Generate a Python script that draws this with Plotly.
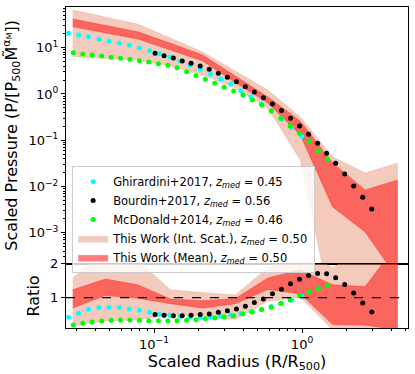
import plotly.graph_objects as go
from plotly.subplots import make_subplots

# radii of the "This Work" bins (R/R500)
band_r = [0.0282, 0.0469, 0.0776, 0.129, 0.213, 0.354, 0.587, 0.973, 1.61, 2.67, 4.44]
# scaled pressure bands
scat_hi = [65.2, 46.0, 32.5, 16.2, 8.07, 3.14, 1.22, 0.318, 0.0436, 0.0197, 0.0324]
mean_hi = [41.7, 30.5, 22.2, 12.5, 6.95, 2.45, 0.861, 0.261, 0.0324, 0.00845, 0.0139]
mean_lo = [28.4, 21.0, 15.4, 8.91, 5.16, 1.77, 0.640, 0.130, 0.00362, 0.00104, 0.000101]
scat_lo = [6.40, 5.90, 5.42, 4.03, 2.57, 1.35, 0.499, 0.0375, 1.7e-5, 1e-7, 1e-7]
# ratio bands
ratio_scat_hi = [1.58, 2.35, 2.10, 1.23, 1.15, 1.08, 1.88, 2.4, 1.88, 2.5, 2.8]
ratio_mean_hi = [1.23, 1.55, 1.38, 0.96, 0.91, 0.97, 1.58, 1.82, 1.38, 1.33, 2.6]
ratio_mean_lo = [0.69, 1.06, 0.98, 0.82, 0.69, 0.82, 1.24, 1.11, 0.2, 0.18, 0.05]
ratio_scat_lo = [0.16, 0.31, 0.34, 0.5, 0.45, 0.35, 0.89, 1.0, 0.05, 0.05, 0.05]

# Ghirardini+2017
ghir_r = [0.0264, 0.0309, 0.0361, 0.0424, 0.0496, 0.0581, 0.0680, 0.0796, 0.0933, 0.109,
          0.128, 0.150, 0.175, 0.206, 0.241, 0.282, 0.330, 0.386, 0.452, 0.530,
          0.620, 0.726, 0.851, 0.996]
ghir_p = [20.5, 18.8, 17.3, 15.4, 14.0, 12.6, 11.3, 9.86, 8.61, 7.42,
          6.29, 5.16, 4.23, 3.41, 2.66, 2.11, 1.64, 1.18, 0.875, 0.608,
          0.430, 0.288, 0.187, 0.120]
ghir_ratio = [0.418, 0.537, 0.656, 0.703, 0.715, 0.703, 0.665, 0.626, 0.567, 0.516,
              0.478, 0.448, 0.427, 0.418, 0.427, 0.448, 0.487, 0.531, 0.585, 0.650,
              0.739, 0.834, 0.932, 1.042]

# Bourdin+2017
bour_r = [0.1016, 0.117, 0.135, 0.155, 0.178, 0.205, 0.236, 0.272, 0.313, 0.360,
          0.414, 0.476, 0.548, 0.631, 0.726, 0.836, 0.962, 1.107, 1.274, 1.466,
          1.687, 1.941, 2.234, 2.570, 2.958]
bour_p = [7.57, 6.71, 5.99, 5.16, 4.60, 4.03, 3.41, 2.80, 2.30, 1.85,
          1.44, 1.10, 0.832, 0.608, 0.440, 0.299, 0.204, 0.135, 0.0861, 0.0524,
          0.0318, 0.0187, 0.0103, 0.00587, 0.00328]
bour_ratio = [0.496, 0.478, 0.466, 0.466, 0.478, 0.496, 0.516, 0.567, 0.614, 0.665,
              0.745, 0.852, 0.961, 1.110, 1.249, 1.407, 1.546, 1.653, 1.712, 1.703,
              1.585, 1.386, 1.139, 0.843, 0.576]

# McDonald+2014
mcd_r = [0.0285, 0.0330, 0.0382, 0.0443, 0.0513, 0.0593, 0.0687, 0.0796, 0.0921, 0.107,
         0.124, 0.143, 0.166, 0.192, 0.222, 0.257, 0.298, 0.345, 0.399, 0.462,
         0.535, 0.619, 0.717, 0.830, 0.961, 1.113, 1.289, 1.492]
mcd_p = [7.80, 7.31, 6.95, 6.62, 6.21, 5.90, 5.61, 5.24, 4.91, 4.51,
         4.17, 3.70, 3.03, 2.48, 2.08, 1.70, 1.40, 1.16, 0.951, 0.741,
         0.578, 0.430, 0.299, 0.204, 0.142, 0.0919, 0.0596, 0.0394]
mcd_ratio = [0.190, 0.240, 0.279, 0.309, 0.329, 0.338, 0.338, 0.329, 0.318, 0.318,
             0.318, 0.318, 0.329, 0.347, 0.377, 0.398, 0.427, 0.466, 0.516, 0.576,
             0.644, 0.715, 0.822, 0.932, 1.059, 1.169, 1.267, 1.347]

PINK = 'rgba(233,150,122,0.5)'
RED = 'rgba(255,0,0,0.5)'
FONT = 'DejaVu Sans'

fig = make_subplots(rows=2, cols=1, shared_xaxes=True, vertical_spacing=0,
                    row_heights=[0.8, 0.2])


def add_band(lo, hi, color, name, row, legend, rank):
    fig.add_trace(go.Scatter(x=band_r, y=lo, mode='lines', line=dict(width=0.6, color=color),
                             showlegend=False, hoverinfo='skip'), row=row, col=1)
    fig.add_trace(go.Scatter(x=band_r, y=hi, mode='lines', line=dict(width=0.6, color=color),
                             fill='tonexty', fillcolor=color, name=name,
                             showlegend=legend, legendrank=rank), row=row, col=1)


zmed = '<i>z<sub>med</sub></i> = '
add_band(scat_lo, scat_hi, PINK, 'This Work (Int. Scat.), ' + zmed + '0.50', 1, True, 4)
add_band(mean_lo, mean_hi, RED, 'This Work (Mean), ' + zmed + '0.50', 1, True, 5)
add_band(ratio_scat_lo, ratio_scat_hi, PINK, '', 2, False, 10)
add_band(ratio_mean_lo, ratio_mean_hi, RED, '', 2, False, 10)

series = [
    (ghir_r, ghir_p, ghir_ratio, 'cyan', 'Ghirardini+2017, ' + zmed + '0.45', 1),
    (bour_r, bour_p, bour_ratio, 'black', 'Bourdin+2017, ' + zmed + '0.56', 2),
    (mcd_r, mcd_p, mcd_ratio, 'lime', 'McDonald+2014, ' + zmed + '0.46', 3),
]
for r, p, rat, c, name, rank in series:
    fig.add_trace(go.Scatter(x=r, y=p, mode='markers', marker=dict(size=5, color=c),
                             name=name, legendrank=rank), row=1, col=1)
    fig.add_trace(go.Scatter(x=r, y=rat, mode='markers', marker=dict(size=5, color=c),
                             showlegend=False), row=2, col=1)

fig.add_hline(y=1, line=dict(color='black', width=1.3, dash='dash'), row=2, col=1)

minor_x = [k * 10 ** e for e in (-2, -1, 0) for k in range(2, 10)]
minor_y = [k * 10 ** e for e in (-4, -3, -2, -1, 0, 1) for k in range(2, 10)]

axis_common = dict(showline=True, mirror=True, linecolor='black', linewidth=1, automargin=False,
                   showgrid=False, zeroline=False, tickfont=dict(family=FONT, size=13, color='black'))

fig.update_xaxes(type='log', range=[-1.595, 0.716], **axis_common)
fig.update_xaxes(ticks='', showticklabels=False, row=1, col=1)
fig.update_xaxes(ticks='outside', ticklen=4, tickcolor='black',
                 tickmode='array', tickvals=[0.1, 1], ticktext=['10<sup>−1</sup>', '10<sup>0</sup>'],
                 minor=dict(ticks='outside', ticklen=2, tickcolor='black', tickmode='array', tickvals=minor_x),
                 title=dict(text='Scaled Radius (R/R<sub>500</sub>)', font=dict(family=FONT, size=16, color='black'),
                            standoff=2),
                 row=2, col=1)

fig.update_yaxes(type='log', range=[-3.67, 1.88], ticks='outside', ticklen=4, tickcolor='black',
                 tickmode='array', tickvals=[1e-3, 1e-2, 1e-1, 1, 10],
                 ticktext=['10<sup>−3</sup>', '10<sup>−2</sup>', '10<sup>−1</sup>', '10<sup>0</sup>', '10<sup>1</sup>'],
                 minor=dict(ticks='outside', ticklen=2, tickcolor='black', tickmode='array', tickvals=minor_y),
                 title=dict(text='Scaled Pressure (P/[P<sub>500</sub>M\u0303<sup>α<sub>M</sub></sup>])',
                            font=dict(family=FONT, size=16, color='black'), standoff=8),
                 row=1, col=1, **axis_common)
fig.update_yaxes(range=[0.1, 2], ticks='outside', ticklen=4, tickcolor='black',
                 tickmode='array', tickvals=[1, 2], ticktext=['1', '2'],
                 title=dict(text='Ratio', font=dict(family=FONT, size=16, color='black'), standoff=6),
                 row=2, col=1, **axis_common)

fig.update_layout(
    width=415, height=374,
    margin=dict(l=66, r=7, t=7, b=46),
    plot_bgcolor='white', paper_bgcolor='white',
    font=dict(family=FONT, color='black'),
    legend=dict(x=0.018, y=0.505, xanchor='left', yanchor='top', traceorder='normal',
                bgcolor='rgba(255,255,255,0.8)', bordercolor='#cccccc', borderwidth=1,
                font=dict(family=FONT, size=11.5, color='black'), tracegroupgap=0),
)

fig.write_html('out.html', config={'displayModeBar': False},
               post_script="document.body.style.margin='0';")
